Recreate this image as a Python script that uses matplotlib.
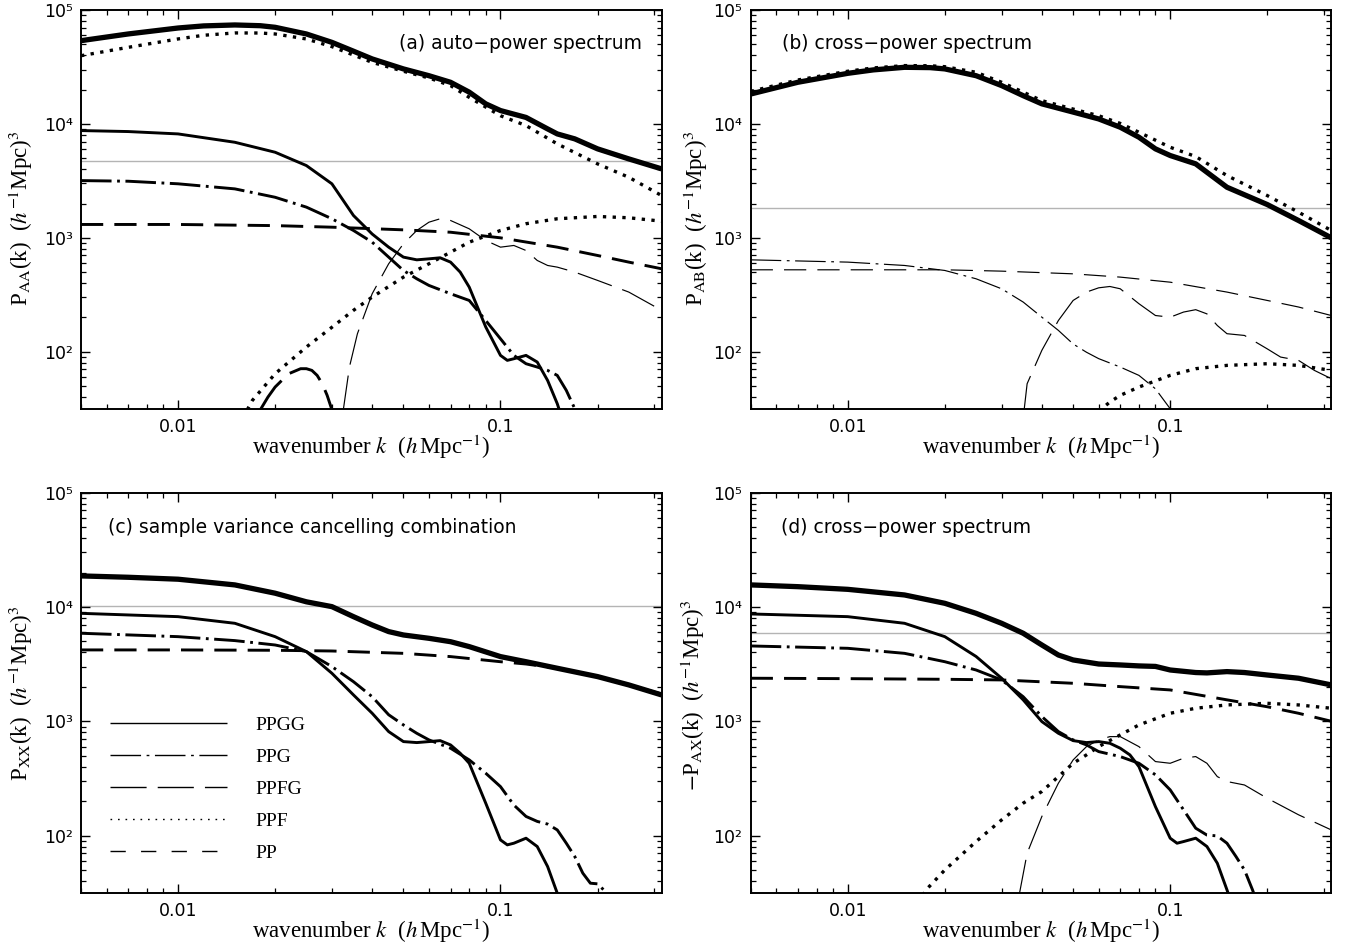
import numpy as np
import matplotlib
matplotlib.use('Agg')
import matplotlib.pyplot as plt
from matplotlib.lines import Line2D
from matplotlib.ticker import LogLocator, FuncFormatter, NullFormatter

plt.rcParams['lines.scale_dashes'] = False
plt.rcParams['font.family'] = ['DejaVu Sans']
plt.rcParams['mathtext.fontset'] = 'stix'

# ---------------- panel (a): auto-power spectrum ----------------
a_tot_k = [0.005, 0.007, 0.01, 0.012, 0.015, 0.018, 0.02, 0.025, 0.03, 0.035, 0.04, 0.05, 0.06, 0.07, 0.08, 0.09, 0.1, 0.12, 0.14, 0.15, 0.17, 0.2, 0.25, 0.316]
a_tot_p = [53800, 61600, 69500, 72500, 73900, 72800, 70500, 61600, 52000, 43500, 37200, 30400, 26500, 23200, 19000, 15000, 13100, 11400, 9040, 8170, 7390, 6040, 4930, 4030]
a_ppf_k = [0.005, 0.007, 0.01, 0.012, 0.015, 0.018, 0.02, 0.025, 0.03, 0.04, 0.05, 0.06, 0.07, 0.08, 0.1, 0.12, 0.15, 0.2, 0.25, 0.316]
a_ppf_p = [39700, 47000, 55700, 60000, 62900, 62800, 61600, 55700, 47700, 34700, 29000, 25300, 21700, 17100, 11800, 9670, 6680, 4460, 3400, 2350]
a_ppgg_k = [0.005, 0.007, 0.01, 0.015, 0.02, 0.025, 0.03, 0.035, 0.04, 0.045, 0.05, 0.055, 0.06, 0.065, 0.07, 0.075, 0.08, 0.09, 0.1, 0.105, 0.11, 0.12, 0.13, 0.14, 0.15, 0.16]
a_ppgg_p = [8740, 8570, 8170, 6900, 5640, 4310, 2980, 1570, 1080, 828, 677, 641, 654, 668, 612, 500, 369, 165, 92.9, 84, 86.8, 92.9, 81.2, 56, 35, 20]
a_ppg_k = [0.005, 0.007, 0.01, 0.015, 0.02, 0.025, 0.03, 0.035, 0.04, 0.045, 0.05, 0.055, 0.06, 0.07, 0.08, 0.09, 0.1, 0.11, 0.12, 0.13, 0.14, 0.15, 0.16, 0.17, 0.18]
a_ppg_p = [3180, 3140, 2980, 2690, 2270, 1860, 1470, 1160, 916, 677, 517, 437, 382, 323, 282, 188, 130, 92.9, 78.5, 73.4, 68.6, 62, 45.8, 31.6, 20]
a_pp_k = [0.005, 0.01, 0.02, 0.03, 0.05, 0.07, 0.1, 0.15, 0.2, 0.25, 0.316]
a_pp_p = [1310, 1310, 1280, 1240, 1175, 1120, 1000, 828, 700, 612, 535]
a_ppf2_k = [0.0164, 0.017, 0.02, 0.025, 0.03, 0.035, 0.04, 0.05, 0.06, 0.07, 0.08, 0.1, 0.12, 0.15, 0.2, 0.25, 0.316]
a_ppf2_p = [31, 37.4, 64.1, 110, 164, 231, 302, 452, 592, 748, 916, 1160, 1330, 1470, 1540, 1500, 1400]
a_ppfg1_k = [0.018, 0.019, 0.02, 0.022, 0.024, 0.025, 0.026, 0.027, 0.028, 0.029, 0.030, 0.031]
a_ppfg1_p = [31, 40, 49, 64, 71, 71, 68.6, 62, 52.4, 41.4, 31, 20]
a_ppfg2_k = [0.0325, 0.034, 0.036, 0.04, 0.045, 0.05, 0.055, 0.06, 0.065, 0.07, 0.08, 0.09, 0.1, 0.11, 0.12, 0.13, 0.14, 0.15, 0.17, 0.2, 0.25, 0.316]
a_ppfg2_p = [30, 73.4, 144, 323, 592, 886, 1160, 1372, 1470, 1420, 1200, 948, 828, 857, 774, 633, 572, 553, 500, 423, 334, 231]
a_noise = 4750

# ---------------- panel (b): cross-power spectrum ----------------
b_tot_k = [0.005, 0.007, 0.01, 0.012, 0.015, 0.018, 0.02, 0.025, 0.03, 0.035, 0.04, 0.05, 0.06, 0.07, 0.08, 0.09, 0.1, 0.12, 0.15, 0.2, 0.25, 0.316]
b_tot_p = [18300, 23200, 27800, 29800, 31400, 31200, 30400, 26500, 21700, 17700, 15000, 12700, 11060, 9350, 7640, 6040, 5280, 4460, 2780, 1960, 1420, 1000]
b_ppf_k = [0.005, 0.007, 0.01, 0.012, 0.015, 0.018, 0.02, 0.025, 0.03, 0.035, 0.04, 0.05, 0.06, 0.07, 0.08, 0.1, 0.12, 0.15, 0.2, 0.25, 0.316]
b_ppf_p = [19300, 24300, 29000, 31000, 32500, 32400, 31800, 28400, 23200, 19000, 16000, 13500, 11800, 10100, 8450, 6240, 5170, 3520, 2350, 1680, 1160]
b_ppg_k = [0.005, 0.01, 0.015, 0.02, 0.025, 0.03, 0.035, 0.04, 0.045, 0.05, 0.055, 0.06, 0.07, 0.08, 0.09, 0.1, 0.105]
b_ppg_p = [641, 612, 572, 517, 437, 357, 273, 201, 154, 117, 99, 87, 73.4, 62, 47.3, 31.6, 22]
b_pp_k = [0.005, 0.01, 0.02, 0.03, 0.05, 0.07, 0.1, 0.15, 0.2, 0.25, 0.316]
b_pp_p = [524, 524, 524, 510, 483, 452, 408, 334, 282, 247, 208]
b_ppfg_k = [0.0352, 0.036, 0.04, 0.045, 0.05, 0.055, 0.06, 0.065, 0.07, 0.08, 0.09, 0.1, 0.11, 0.12, 0.13, 0.14, 0.15, 0.17, 0.2, 0.22, 0.25, 0.28, 0.316]
b_ppfg_p = [30, 52.4, 103, 188, 282, 334, 364, 374, 357, 264, 208, 201, 223, 234, 215, 170, 144, 139, 106, 89.8, 84, 68.6, 58]
b_ppf2_k = [0.06, 0.065, 0.07, 0.08, 0.1, 0.12, 0.15, 0.2, 0.25, 0.316]
b_ppf2_p = [30, 36.2, 41.4, 49, 62, 71, 75.9, 78.5, 75.9, 68.6]
b_noise = 1830

# ---------------- panel (c): sample variance cancelling combination ----------------
c_tot_k = [0.005, 0.007, 0.01, 0.015, 0.02, 0.025, 0.03, 0.035, 0.04, 0.045, 0.05, 0.06, 0.07, 0.08, 0.1, 0.12, 0.15, 0.2, 0.25, 0.316]
c_tot_p = [18700, 18200, 17500, 15600, 13200, 11100, 10070, 8230, 6960, 6090, 5690, 5320, 4970, 4500, 3680, 3320, 2910, 2460, 2080, 1700]
c_ppgg_k = [0.005, 0.01, 0.015, 0.02, 0.025, 0.03, 0.035, 0.04, 0.045, 0.05, 0.055, 0.06, 0.065, 0.07, 0.075, 0.08, 0.09, 0.1, 0.105, 0.11, 0.12, 0.13, 0.14, 0.15, 0.16]
c_ppgg_p = [8800, 8230, 7200, 5500, 4070, 2630, 1700, 1175, 812, 664, 651, 664, 677, 621, 525, 429, 192, 91.6, 82.9, 85.7, 94.8, 80.2, 53.6, 31.3, 20]
c_ppg_k = [0.005, 0.01, 0.015, 0.02, 0.025, 0.03, 0.035, 0.04, 0.045, 0.05, 0.055, 0.06, 0.07, 0.08, 0.09, 0.1, 0.11, 0.12, 0.13, 0.14, 0.15, 0.16, 0.17, 0.18, 0.19, 0.2, 0.21, 0.22]
c_ppg_p = [5890, 5500, 5080, 4650, 4070, 3010, 2220, 1640, 1140, 929, 785, 687, 581, 459, 351, 268, 185, 147, 133, 126, 112, 85.7, 65.5, 46.9, 38.3, 37.8, 33, 27]
c_pp_k = [0.005, 0.01, 0.02, 0.03, 0.05, 0.07, 0.1, 0.12, 0.15, 0.2, 0.25, 0.316]
c_pp_p = [4210, 4210, 4180, 4120, 3930, 3680, 3320, 3170, 2910, 2460, 2080, 1730]
c_noise = 10300

# ---------------- panel (d): cross-power spectrum ----------------
d_tot_k = [0.005, 0.007, 0.01, 0.015, 0.02, 0.025, 0.03, 0.035, 0.04, 0.045, 0.05, 0.06, 0.07, 0.08, 0.09, 0.1, 0.12, 0.13, 0.15, 0.17, 0.2, 0.25, 0.316]
d_tot_p = [15600, 15060, 14270, 12740, 10770, 8800, 7200, 5890, 4650, 3800, 3440, 3170, 3110, 3050, 3020, 2810, 2670, 2650, 2720, 2670, 2540, 2380, 2080]
d_ppgg_k = [0.005, 0.01, 0.015, 0.02, 0.025, 0.03, 0.035, 0.04, 0.045, 0.05, 0.055, 0.06, 0.065, 0.07, 0.075, 0.08, 0.09, 0.1, 0.105, 0.11, 0.12, 0.13, 0.14, 0.15, 0.16]
d_ppgg_p = [8690, 8230, 7200, 5500, 3690, 2380, 1540, 993, 785, 677, 651, 664, 642, 581, 508, 401, 179, 94.8, 85.7, 88.6, 94.8, 80.2, 57.3, 33.5, 20]
d_ppg_k = [0.005, 0.01, 0.015, 0.02, 0.025, 0.03, 0.035, 0.04, 0.045, 0.05, 0.055, 0.06, 0.07, 0.08, 0.09, 0.1, 0.11, 0.12, 0.13, 0.14, 0.15, 0.16, 0.17, 0.18, 0.19]
d_ppg_p = [4560, 4350, 3930, 3320, 2810, 2300, 1640, 1099, 812, 687, 621, 543, 491, 429, 340, 251, 168, 116, 101, 99.3, 85.7, 65.5, 50, 33.5, 22]
d_pp_k = [0.005, 0.01, 0.02, 0.03, 0.05, 0.07, 0.1, 0.15, 0.2, 0.25, 0.316]
d_pp_p = [2380, 2360, 2330, 2300, 2150, 2010, 1880, 1540, 1340, 1175, 1000]
d_ppf_k = [0.0171, 0.0175, 0.02, 0.025, 0.03, 0.035, 0.04, 0.05, 0.055, 0.06, 0.07, 0.08, 0.1, 0.12, 0.15, 0.2, 0.25, 0.316]
d_ppf_p = [30, 33.5, 50, 88.6, 137, 192, 243, 429, 508, 600, 760, 929, 1175, 1300, 1390, 1436, 1390, 1300]
d_ppfg_k = [0.034, 0.036, 0.04, 0.045, 0.05, 0.055, 0.06, 0.065, 0.07, 0.08, 0.09, 0.1, 0.11, 0.12, 0.13, 0.14, 0.15, 0.17, 0.2, 0.25, 0.316]
d_ppfg_p = [30, 70, 147, 287, 459, 600, 687, 734, 734, 600, 444, 429, 475, 491, 429, 328, 297, 277, 212, 152, 112]
d_noise = 5970

legend_labels = ['PPGG', 'PPG', 'PPFG', 'PPF', 'PP']

# ---------------- styles ----------------
LW_TOT, LW_THICK, LW_THIN = 3.8, 2.1, 0.85
def st(kind, lw):
    d = dict(color='black', lw=lw, solid_capstyle='butt', dash_capstyle='butt',
             solid_joinstyle='round')
    if kind == 'solid':
        d['ls'] = '-'
    elif kind == 'dashdot':
        d['ls'] = (0, (22, 4, 2, 4))
    elif kind == 'longdash':
        d['ls'] = (0, (26, 8))
    elif kind == 'dot':
        d['ls'] = (0, (lw, 4.6))
    elif kind == 'dash':
        d['ls'] = (0, (16, 8))
    return d

panels = [
    dict(label='(a) auto\u2212power spectrum', tpos=(0.548, 0.9165),
         ylab=r'P$_{\rm AA}$(k)  ($h^{-1}$Mpc)$^3$', noise=a_noise,
         curves=[(a_ppf_k, a_ppf_p, st('dot', 2.4)), (a_tot_k, a_tot_p, st('solid', LW_TOT)),
                 (a_ppgg_k, a_ppgg_p, st('solid', LW_THICK)), (a_ppg_k, a_ppg_p, st('dashdot', LW_THICK)),
                 (a_pp_k, a_pp_p, st('dash', LW_THICK)), (a_ppf2_k, a_ppf2_p, st('dot', 2.4)),
                 (a_ppfg1_k, a_ppfg1_p, st('longdash', LW_THICK)), (a_ppfg2_k, a_ppfg2_p, st('longdash', LW_THIN))]),
    dict(label='(b) cross\u2212power spectrum', tpos=(0.054, 0.9165),
         ylab=r'P$_{\rm AB}$(k)  ($h^{-1}$Mpc)$^3$', noise=b_noise,
         curves=[(b_ppf_k, b_ppf_p, st('dot', 2.4)), (b_tot_k, b_tot_p, st('solid', LW_TOT)),
                 (b_ppg_k, b_ppg_p, st('dashdot', LW_THIN)), (b_pp_k, b_pp_p, st('dash', LW_THIN)),
                 (b_ppfg_k, b_ppfg_p, st('longdash', LW_THIN)), (b_ppf2_k, b_ppf2_p, st('dot', 2.4))]),
    dict(label='(c) sample variance cancelling combination', tpos=(0.046, 0.9135),
         ylab=r'P$_{\rm XX}$(k)  ($h^{-1}$Mpc)$^3$', noise=c_noise,
         curves=[(c_tot_k, c_tot_p, st('solid', LW_TOT)), (c_ppgg_k, c_ppgg_p, st('solid', LW_THICK)),
                 (c_ppg_k, c_ppg_p, st('dashdot', LW_THICK)), (c_pp_k, c_pp_p, st('dash', LW_THICK))]),
    dict(label='(d) cross\u2212power spectrum', tpos=(0.052, 0.9135),
         ylab=r'$-$P$_{\rm AX}$(k)  ($h^{-1}$Mpc)$^3$', noise=d_noise,
         curves=[(d_tot_k, d_tot_p, st('solid', LW_TOT)), (d_ppgg_k, d_ppgg_p, st('solid', LW_THICK)),
                 (d_ppg_k, d_ppg_p, st('dashdot', LW_THICK)), (d_pp_k, d_pp_p, st('dash', LW_THICK)),
                 (d_ppf_k, d_ppf_p, st('dot', 2.4)), (d_ppfg_k, d_ppfg_p, st('longdash', LW_THIN))]),
]

positions = [
    [81/1356, 1-408.7/947, 580.7/1356, 398.7/947],
    [750.7/1356, 1-408.7/947, 580.7/1356, 398.7/947],
    [81/1356, 1-892.7/947, 580.7/1356, 400/947],
    [750.7/1356, 1-892.7/947, 580.7/1356, 400/947],
]
ylab_x = [-0.104, -0.094, -0.104, -0.1]
ylab_y = [0.478, 0.478, 0.5, 0.494]

SUP = {2: '\u00b2', 3: '\u00b3', 4: '\u2074', 5: '\u2075'}
def yfmt(v, p):
    e = int(round(np.log10(v)))
    return '10' + SUP.get(e, str(e))
def xfmt(v, p):
    return f'{v:g}'

fig = plt.figure(figsize=(13.56, 9.47), dpi=100)
serif = ['Liberation Serif', 'DejaVu Serif']

for i, (pn, pos) in enumerate(zip(panels, positions)):
    ax = fig.add_axes(pos)
    ax.set_xscale('log')
    ax.set_yscale('log')
    ax.axhline(pn['noise'], color='#b4b4b4', lw=1.0, zorder=1)
    for k, p, s in pn['curves']:
        ax.plot(k, p, zorder=3, **s)
    ax.set_xlim(0.005, 10**-0.5)
    ax.set_ylim(10**1.5, 1e5)
    ax.xaxis.set_major_locator(LogLocator(base=10, numticks=10))
    ax.xaxis.set_minor_locator(LogLocator(base=10, subs=np.arange(2, 10), numticks=20))
    ax.yaxis.set_major_locator(LogLocator(base=10, numticks=10))
    ax.yaxis.set_minor_locator(LogLocator(base=10, subs=np.arange(2, 10), numticks=20))
    ax.xaxis.set_major_formatter(FuncFormatter(xfmt))
    ax.yaxis.set_major_formatter(FuncFormatter(yfmt))
    ax.xaxis.set_minor_formatter(NullFormatter())
    ax.yaxis.set_minor_formatter(NullFormatter())
    ax.tick_params(which='both', direction='in', top=True, right=True, labelsize=12.5)
    ax.tick_params(which='major', length=6.5, width=1.0)
    ax.tick_params(which='minor', length=3.6, width=0.9)
    ax.tick_params(axis='x', pad=7)
    ax.tick_params(axis='y', pad=6)
    for sp in ax.spines.values():
        sp.set_linewidth(1.4)
    ax.text(pn['tpos'][0], pn['tpos'][1], pn['label'], transform=ax.transAxes,
            ha='left', va='center', fontsize=13.5)
    ax.text(0.5, -0.095, r'wavenumber $k$  ($h\,$Mpc$^{-1}$)', transform=ax.transAxes,
            ha='center', va='center', fontsize=16.5, family=serif)
    ax.text(ylab_x[i], ylab_y[i], pn['ylab'], transform=ax.transAxes, rotation=90,
            ha='center', va='center', fontsize=16.5, family=serif)
    if i == 2:
        handles = [Line2D([], [], **st('solid', 1.0)), Line2D([], [], **st('dashdot', 1.0)),
                   Line2D([], [], color='black', lw=1.0, ls=(0, (26, 8))),
                   Line2D([], [], color='black', lw=1.0, ls=(0, (1.2, 4.2))),
                   Line2D([], [], color='black', lw=1.0, ls=(0, (11, 11)))]
        ax.legend(handles, legend_labels, loc='upper left', bbox_to_anchor=(0.05, 0.442),
                  frameon=False, borderpad=0, borderaxespad=0, handlelength=6.0,
                  handletextpad=1.5, labelspacing=0.75, prop={'family': serif, 'size': 14})

fig.savefig('out.png', dpi=100)
